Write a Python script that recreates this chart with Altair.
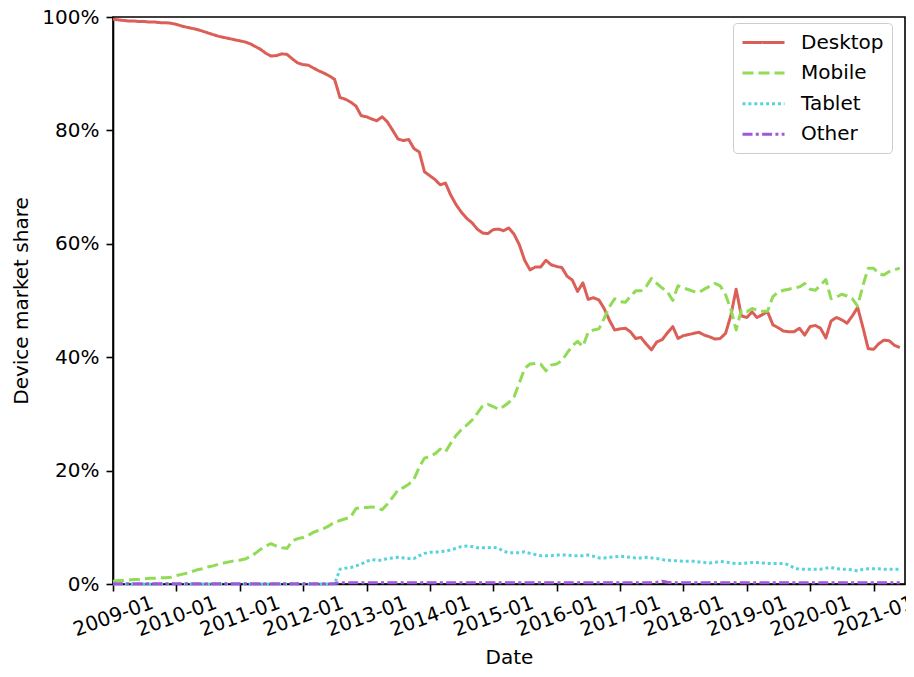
import altair as alt
import pandas as pd

SERIES = ["Desktop", "Mobile", "Tablet", "Other"]
COLORS = ["#db5f57", "#91db57", "#57d3db", "#a157db"]
DASHES = [[1, 0], [11, 5], [3, 2.9], [10, 3.3, 3, 3.3]]
YEAR_TICKS = list(range(2009, 2022))
Y_TICKS = [0, 20, 40, 60, 80, 100]

# monthly values, 2009-01 .. 2021-06 (percent)
desktop = [
    99.6, 99.5, 99.4, 99.3, 99.3, 99.2, 99.2, 99.1, 99.1, 99.0, 99.0, 98.9,
    98.7, 98.4, 98.2, 98.0, 97.8, 97.5, 97.2, 96.9, 96.6, 96.4, 96.2, 96.0,
    95.8, 95.6, 95.3, 94.8, 94.3, 93.6, 93.1, 93.2, 93.5, 93.4, 92.6, 91.9,
    91.6, 91.5, 91.0, 90.5, 90.1, 89.6, 89.0, 85.8, 85.5, 85.0, 84.3, 82.6,
    82.4, 82.0, 81.7, 82.4, 81.5, 80.0, 78.5, 78.2, 78.4, 76.8, 76.2, 72.7,
    72.0, 71.3, 70.4, 70.7, 68.6, 66.9, 65.6, 64.5, 63.7, 62.6, 61.9, 61.8,
    62.5, 62.6, 62.3, 62.8, 61.7, 59.8, 57.1, 55.4, 55.9, 55.9, 57.1, 56.3,
    56.0, 55.8, 54.3, 53.6, 51.6, 53.1, 50.2, 50.5, 50.1, 48.6, 46.5, 44.8,
    45.0, 45.1, 44.5, 43.3, 43.5, 42.3, 41.3, 42.7, 43.1, 44.3, 45.4, 43.3,
    43.8, 44.0, 44.2, 44.4, 43.9, 43.6, 43.2, 43.3, 44.2, 47.3, 52.0, 47.3,
    47.0, 48.0, 47.0, 47.5, 48.0, 45.7, 45.2, 44.6, 44.5, 44.5, 45.1, 43.9,
    45.4, 45.6, 45.1, 43.4, 46.4, 47.0, 46.6, 46.0, 47.3, 48.8, 45.2, 41.5,
    41.4, 42.4, 43.0, 42.9, 42.1, 41.7,
]
mobile = [
    0.5, 0.6, 0.6, 0.7, 0.8, 0.8, 0.9, 1.0, 1.0, 1.1, 1.1, 1.2,
    1.5, 1.7, 1.9, 2.2, 2.5, 2.7, 3.0, 3.2, 3.5, 3.7, 3.9, 4.1,
    4.2, 4.4, 4.8, 5.4, 6.1, 6.7, 7.1, 6.7, 6.4, 6.3, 7.6, 8.0,
    8.2, 8.6, 9.1, 9.5, 9.8, 10.3, 10.9, 11.2, 11.5, 11.8, 13.3, 13.5,
    13.5, 13.6, 13.4, 13.1, 14.1, 15.3, 16.6, 17.0, 17.6, 18.5, 20.6, 22.2,
    22.5, 23.0, 23.8, 23.3, 24.8, 26.2, 27.2, 28.0, 28.9, 30.1, 31.4, 31.7,
    31.3, 30.8, 31.3, 32.0, 33.0, 35.5, 38.0, 38.8, 38.9, 38.8, 37.6, 38.6,
    38.8, 39.4, 40.7, 42.0, 42.8, 41.9, 44.4, 44.8, 45.0, 46.8, 48.9, 50.3,
    49.8, 49.7, 50.7, 51.7, 51.7, 52.5, 53.9, 53.0, 52.2, 51.5, 50.0, 52.6,
    52.2, 51.9, 51.6, 51.4, 52.0, 52.5, 53.0, 52.6, 51.0, 48.5, 44.8, 48.3,
    48.0, 48.6, 48.3, 48.1, 48.1, 50.7, 51.5, 51.8, 52.0, 52.2, 52.4, 53.0,
    52.0, 51.8, 52.7, 53.7, 50.3, 50.6, 51.1, 50.8, 50.3, 49.0, 52.7, 55.7,
    55.7, 54.7, 54.5, 55.1, 55.4, 55.7,
]
tablet = [
    0.0, 0.0, 0.0, 0.0, 0.0, 0.0, 0.0, 0.0, 0.0, 0.0, 0.0, 0.0,
    0.0, 0.0, 0.0, 0.0, 0.0, 0.0, 0.0, 0.0, 0.0, 0.0, 0.0, 0.0,
    0.0, 0.0, 0.0, 0.0, 0.0, 0.0, 0.0, 0.0, 0.0, 0.0, 0.0, 0.0,
    0.0, 0.0, 0.0, 0.0, 0.0, 0.0, 0.0, 2.6, 2.8, 2.9, 3.2, 3.5,
    4.0, 4.3, 4.2, 4.2, 4.5, 4.6, 4.7, 4.6, 4.5, 4.5, 5.0, 5.4,
    5.6, 5.6, 5.7, 5.8, 6.0, 6.3, 6.6, 6.7, 6.6, 6.4, 6.4, 6.4,
    6.5, 6.3, 5.8, 5.5, 5.5, 5.5, 5.7, 5.4, 5.2, 5.0, 5.0, 5.0,
    5.1, 5.1, 5.1, 5.0, 5.0, 5.0, 5.1, 4.9, 4.6, 4.6, 4.7, 4.8,
    4.9, 4.8, 4.7, 4.6, 4.6, 4.7, 4.6, 4.5, 4.3, 4.2, 4.1, 4.1,
    4.0, 4.0, 4.0, 3.9, 3.8, 3.7, 3.8, 4.0, 3.9, 3.7, 3.6, 3.6,
    3.7, 3.8, 3.8, 3.7, 3.6, 3.6, 3.6, 3.6, 3.4, 2.8, 2.6, 2.6,
    2.6, 2.6, 2.6, 2.8, 2.9, 2.7, 2.6, 2.6, 2.5, 2.3, 2.6, 2.7,
    2.7, 2.7, 2.6, 2.6, 2.6, 2.6,
]
other = [
    0.05, 0.05, 0.05, 0.05, 0.05, 0.05, 0.05, 0.05, 0.05, 0.05, 0.05, 0.05,
    0.05, 0.05, 0.05, 0.05, 0.05, 0.05, 0.05, 0.05, 0.05, 0.05, 0.05, 0.05,
    0.05, 0.05, 0.05, 0.05, 0.05, 0.05, 0.05, 0.05, 0.05, 0.05, 0.05, 0.05,
    0.05, 0.05, 0.05, 0.05, 0.05, 0.05, 0.1, 0.2, 0.2, 0.2, 0.2, 0.2,
    0.2, 0.2, 0.2, 0.2, 0.2, 0.2, 0.2, 0.2, 0.2, 0.2, 0.2, 0.2,
    0.2, 0.2, 0.2, 0.2, 0.2, 0.2, 0.2, 0.2, 0.2, 0.2, 0.2, 0.2,
    0.2, 0.2, 0.2, 0.2, 0.2, 0.2, 0.2, 0.2, 0.2, 0.2, 0.2, 0.2,
    0.2, 0.2, 0.2, 0.2, 0.2, 0.2, 0.2, 0.2, 0.2, 0.2, 0.2, 0.2,
    0.2, 0.2, 0.2, 0.2, 0.2, 0.2, 0.2, 0.3, 0.5, 0.3, 0.2, 0.2,
    0.2, 0.2, 0.2, 0.2, 0.2, 0.2, 0.2, 0.2, 0.2, 0.2, 0.2, 0.2,
    0.2, 0.2, 0.2, 0.2, 0.2, 0.2, 0.2, 0.2, 0.2, 0.2, 0.2, 0.2,
    0.2, 0.2, 0.2, 0.2, 0.2, 0.2, 0.2, 0.2, 0.2, 0.2, 0.2, 0.2,
    0.2, 0.2, 0.2, 0.2, 0.2, 0.2,
]

dates = pd.date_range("2009-01-01", periods=len(desktop), freq="MS")
rows = []
for name, vals in zip(SERIES, [desktop, mobile, tablet, other]):
    for d, v in zip(dates, vals):
        rows.append({"Date": d, "Device": name, "share": v})
df = pd.DataFrame(rows)

FONT = "DejaVu Sans"

legend = alt.Legend(
    title=None,
    orient="none",
    legendX=620,
    legendY=6,
    symbolType="M-1,0H3.2",
    symbolSize=400,
    symbolStrokeWidth=3,
    symbolFillColor="transparent",
    labelFontSize=20,
    labelFont=FONT,
    labelColor="black",
    labelOffset=37,
    padding=8,
    rowPadding=8.6,
    fillColor="white",
    strokeColor="#cccccc",
    cornerRadius=4,
)

chart = (
    alt.Chart(df)
    .mark_line(strokeWidth=3, strokeJoin="round")
    .encode(
        x=alt.X(
            "Date:T",
            scale=alt.Scale(
                domain=[
                    alt.DateTime(year=2009, month=1, date=1),
                    alt.DateTime(year=2021, month=7, date=1),
                ]
            ),
            axis=alt.Axis(
                values=[alt.DateTime(year=y, month=1, date=1) for y in YEAR_TICKS],
                format="%Y-%m",
                labelAngle=340,
                labelAlign="center",
                labelBaseline="middle",
                labelPadding=25,
                labelOverlap=False,
                labelFlush=False,
                title="Date",
                titlePadding=8,
            ),
        ),
        y=alt.Y(
            "share:Q",
            scale=alt.Scale(domain=[0, 100], nice=False, zero=True),
            axis=alt.Axis(
                values=Y_TICKS,
                labelExpr="datum.value + '%'",
                title="Device market share",
                titlePadding=10,
                labelPadding=7,
            ),
        ),
        color=alt.Color("Device:N", scale=alt.Scale(domain=SERIES, range=COLORS), legend=legend),
        strokeDash=alt.StrokeDash("Device:N", scale=alt.Scale(domain=SERIES, range=DASHES), legend=legend),
    )
    .properties(
        width=792,
        height=567,
        autosize=alt.AutoSizeParams(type="none"),
        padding={"left": 105, "top": 9, "right": 1, "bottom": 85},
        background="white",
    )
    .configure_view(stroke="black", strokeWidth=1.6)
    .configure_axis(
        grid=False,
        domainColor="black",
        domainWidth=1.6,
        tickColor="black",
        tickWidth=1.6,
        tickSize=7,
        labelFont=FONT,
        labelFontSize=20,
        labelColor="black",
        titleFont=FONT,
        titleFontSize=20,
        titleFontWeight="normal",
        titleColor="black",
    )
)

chart.save("out.html", embed_options={"renderer": "svg", "actions": False})
